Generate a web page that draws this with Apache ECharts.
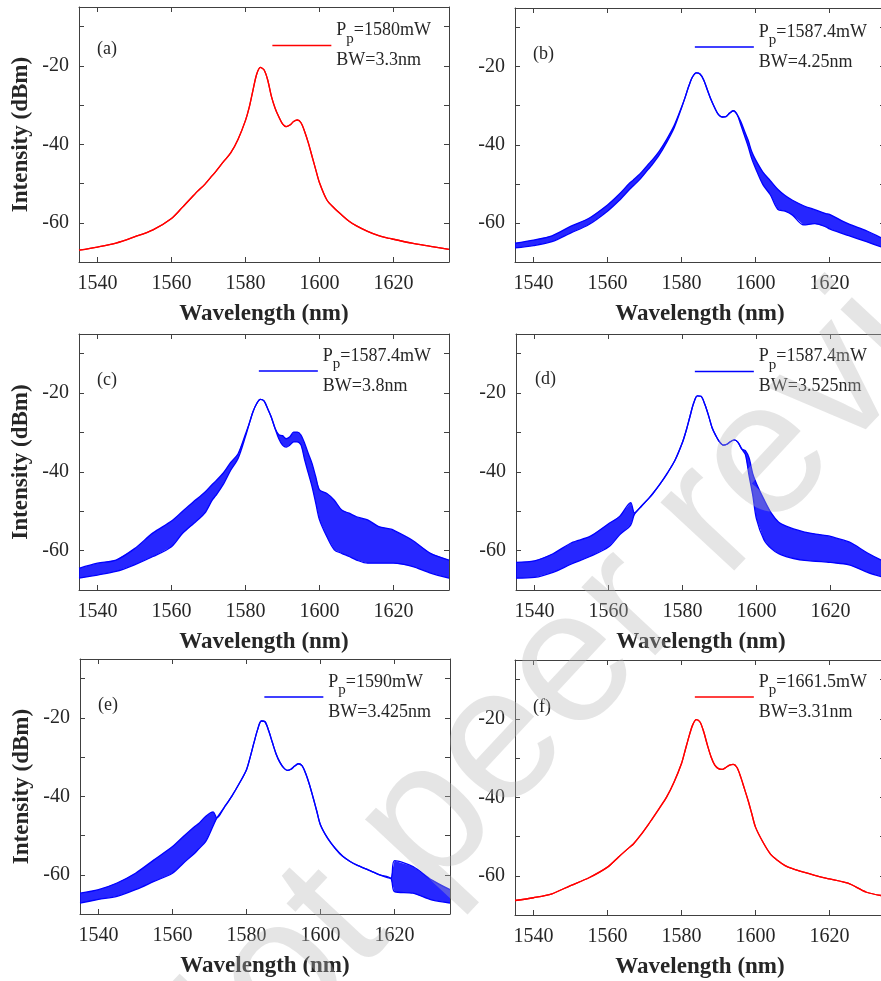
<!DOCTYPE html>
<html>
<head>
<meta charset="utf-8">
<script src="https://cdn.jsdelivr.net/npm/echarts@6/dist/echarts.min.js"></script>
<style>
  html, body { margin: 0; padding: 0; background: #fff; }
  #main { width: 881px; height: 981px; }
</style>
</head>
<body>
<div id="main"></div>
<script>
// wavelength samples (nm) shared by all six spectra
const wavelength = [1535, 1540, 1545, 1550, 1555, 1560, 1563, 1566, 1567, 1569, 1571, 1572, 1574, 1576, 1578,
  1580, 1581, 1582, 1583, 1584, 1585, 1586, 1587, 1588, 1589, 1590, 1591, 1592, 1593, 1594, 1595, 1596, 1597,
  1598, 1599, 1600, 1602, 1604, 1606, 1608, 1610, 1613, 1616, 1619, 1620, 1625, 1630, 1635];

// (a) clean trace
const aTrace = [-67.0, -66.2, -65.2, -63.6, -61.8, -58.9, -56.0, -53.0, -52.0, -50.2, -48.0, -46.9, -44.5, -42.2, -38.7,
  -33.9, -30.6, -26.3, -22.2, -20.4, -21.0, -23.6, -27.8, -30.8, -33.0, -34.8, -35.5, -35.1, -34.2, -33.8, -34.5, -36.8, -39.7,
  -43.1, -46.5, -49.8, -54.2, -56.3, -58.0, -59.6, -60.8, -62.2, -63.3, -64.0, -64.2, -65.2, -66.0, -66.8];

// (b)-(e) noisy traces: lower / upper envelope of the noise band
const bLow = [-66.4, -65.8, -64.8, -62.6, -60.4, -57.0, -54.4, -51.4, -50.5, -48.6, -46.3, -45.2, -42.6, -39.4, -35.7,
  -30.6, -27.8, -24.9, -22.6, -21.6, -21.9, -23.4, -26.0, -28.5, -30.6, -32.3, -32.9, -32.8, -31.9, -31.3, -32.2, -34.8, -37.6,
  -40.4, -43.6, -46.0, -50.2, -52.8, -56.5, -57.0, -58.0, -60.5, -60.2, -61.0, -61.5, -63.2, -64.8, -66.5];
const bHigh = [-65.2, -64.4, -63.3, -60.9, -58.8, -55.4, -52.8, -49.8, -49.0, -47.2, -45.0, -44.0, -41.6, -38.6, -35.1,
  -30.4, -27.8, -24.9, -22.6, -21.6, -21.9, -23.4, -26.0, -28.5, -30.6, -32.3, -32.9, -32.8, -31.9, -31.3, -32.2, -34.0, -36.4,
  -38.8, -41.8, -43.8, -47.0, -49.2, -51.4, -53.0, -54.2, -55.6, -56.6, -57.6, -57.8, -60.2, -62.0, -64.3];

const cLow = [-67.0, -66.2, -65.3, -63.6, -61.5, -59.0, -55.6, -53.1, -52.3, -50.5, -47.2, -46.0, -43.2, -39.6, -36.6,
  -31.0, -27.8, -24.8, -22.7, -21.6, -22.0, -24.0, -26.2, -29.0, -31.6, -33.2, -33.7, -33.2, -32.4, -32.4, -33.2, -37.0, -40.4,
  -43.8, -48.0, -52.2, -56.5, -59.8, -60.7, -61.5, -62.4, -63.2, -63.2, -63.2, -63.2, -64.0, -65.7, -67.0];
const cHigh = [-64.5, -63.2, -62.4, -59.5, -55.5, -52.5, -50.0, -47.5, -46.8, -45.2, -43.2, -42.3, -40.3, -37.6, -35.4,
  -30.4, -27.8, -24.8, -22.7, -21.6, -22.0, -24.0, -26.2, -29.0, -30.6, -30.8, -31.6, -31.1, -29.9, -29.9, -30.7, -32.8, -35.4,
  -37.9, -41.3, -44.6, -45.5, -47.2, -49.7, -50.5, -51.4, -52.2, -53.9, -54.5, -54.8, -57.3, -60.7, -62.4];

const dLow = [-67.0, -66.8, -65.5, -63.4, -61.5, -59.1, -56.0, -53.5, -50.8, -48.6, -46.6, -45.5, -43.0, -40.2, -37.0,
  -32.5, -29.5, -26.0, -22.6, -20.7, -20.8, -22.8, -25.6, -28.8, -30.8, -32.4, -33.2, -33.0, -32.3, -31.9, -32.5, -34.2, -35.6,
  -41.0, -46.0, -52.0, -57.2, -59.5, -60.8, -61.5, -62.0, -62.5, -62.7, -62.9, -63.0, -63.6, -65.5, -67.0];
const dHigh = [-63.0, -62.6, -60.8, -58.0, -56.4, -53.2, -51.3, -47.8, -50.4, -48.6, -46.6, -45.5, -43.0, -40.2, -37.0,
  -32.5, -29.5, -26.0, -22.6, -20.7, -20.8, -22.8, -25.6, -28.8, -30.8, -32.4, -33.2, -33.0, -32.3, -31.9, -32.5, -34.2, -34.6,
  -36.5, -40.5, -43.0, -47.0, -50.5, -52.8, -53.8, -54.5, -55.3, -55.8, -56.2, -56.4, -57.8, -60.6, -63.0];

const eLow = [-67.2, -66.3, -65.5, -63.8, -61.7, -59.6, -57.0, -54.5, -53.5, -51.5, -47.5, -45.5, -42.8, -40.0, -36.8,
  -33.2, -30.0, -26.4, -23.0, -20.8, -21.0, -23.3, -26.3, -29.2, -31.3, -32.7, -33.4, -33.1, -32.3, -31.7, -32.2, -34.2, -37.0,
  -40.3, -43.8, -47.3, -50.8, -53.3, -55.3, -56.6, -57.6, -58.8, -60.0, -60.9, -64.3, -64.7, -66.4, -67.2];
const eHigh = [-64.7, -63.8, -62.1, -59.6, -56.2, -52.8, -50.2, -47.7, -47.0, -45.1, -44.0, -45.5, -42.8, -40.0, -36.8,
  -33.2, -30.0, -26.4, -23.0, -20.8, -21.0, -23.3, -26.3, -29.2, -31.3, -32.7, -33.4, -33.1, -32.3, -31.7, -32.2, -34.2, -37.0,
  -40.3, -43.8, -47.3, -50.8, -53.3, -55.3, -56.6, -57.6, -58.8, -60.0, -60.9, -56.4, -57.9, -61.3, -63.8];

// (f) clean trace
const fTrace = [-66.3, -65.6, -64.6, -62.5, -60.5, -57.8, -55.2, -52.7, -51.9, -49.6, -47.0, -45.6, -42.8, -39.9, -36.1,
  -31.4, -28.0, -24.6, -21.6, -20.2, -20.8, -23.3, -26.7, -29.7, -31.8, -32.7, -32.9, -32.4, -31.8, -31.6, -32.4, -34.8, -37.8,
  -40.8, -44.2, -47.6, -51.4, -54.4, -56.1, -57.4, -58.2, -59.1, -59.9, -60.6, -60.8, -61.9, -64.2, -65.2];

const panelTags = ['(a)', '(b)', '(c)', '(d)', '(e)', '(f)'];
const pumpPowers = ['1580', '1587.4', '1587.4', '1587.4', '1590', '1661.5'];
const bandwidths = ['3.3', '4.25', '3.8', '3.525', '3.425', '3.31'];
const xTicks = [1540, 1560, 1580, 1600, 1620];
const yTicks = [-60, -50, -40, -30, -20, -10];
const yLabels = [-60, -40, -20];

const panels = [
  { low: aTrace, high: aTrace, color: '#ff0000' },
  { low: bLow, high: bHigh, color: '#0000ff' },
  { low: cLow, high: cHigh, color: '#0000ff' },
  { low: dLow, high: dHigh, color: '#0000ff' },
  { low: eLow, high: eHigh, color: '#0000ff' },
  { low: fTrace, high: fTrace, color: '#ff0000' }
];

// layout of the 3x2 grid (pixels)
const boxes = [
  { left: 79, top: 7, height: 255 }, { left: 515, top: 8, height: 254 },
  { left: 79, top: 334, height: 256 }, { left: 516, top: 334, height: 256 },
  { left: 80, top: 659, height: 255 }, { left: 515, top: 660, height: 255 }
];
const legendTop = [14.5, 16, 340, 340.5, 666, 666];
const tagPos = [[97, 40], [533, 45], [97, 371], [535, 370], [98, 696], [533, 698]];

const serif = '"Liberation Serif", "Times New Roman", serif';
const ink = '#262626';
const frame = '#404040';

const chart = echarts.init(document.getElementById('main'), null, { renderer: 'canvas' });

const option = {
  animation: false,
  backgroundColor: '#fff',
  title: [], legend: [], grid: [], xAxis: [], yAxis: [], series: [],
  // light diagonal watermark lying over the figure
  graphic: [{
    type: 'text', x: 154, y: 1116, rotation: 47 * Math.PI / 180, z: 100, silent: true,
    style: {
      text: 'Not peer reviewed', font: '190px "Liberation Sans", Arial, sans-serif',
      fill: 'rgba(180,180,180,0.35)', align: 'left', verticalAlign: 'middle'
    }
  }]
};

panels.forEach(function (p, i) {
  const b = boxes[i];
  const leftCol = i % 2 === 0;
  const name = panelTags[i] + ' Pp=' + pumpPowers[i] + 'mW BW=' + bandwidths[i] + 'nm';
  const lineAxis = { show: true, onZero: false, lineStyle: { color: frame, width: 1 } };
  const tick = function (vals) {
    return { show: true, inside: true, length: 5, customValues: vals, lineStyle: { color: frame, width: 1 } };
  };
  const plain = function (v) { return String(v); };

  option.grid.push({ left: b.left, top: b.top, width: 370, height: b.height, outerBoundsMode: 'none' });

  option.xAxis.push({
    gridIndex: i, type: 'value', min: 1535, max: 1635, position: 'bottom',
    axisLine: lineAxis, axisTick: tick(xTicks), splitLine: { show: false },
    axisLabel: { customValues: xTicks, formatter: plain, margin: 12, fontFamily: serif, fontSize: 20, color: ink },
    name: 'Wavelength (nm)', nameLocation: 'middle', nameGap: 41,
    nameTextStyle: { fontFamily: serif, fontSize: 23, fontWeight: 'bold', color: ink }
  });
  option.xAxis.push({
    gridIndex: i, type: 'value', min: 1535, max: 1635, position: 'top',
    axisLine: lineAxis, axisTick: tick(xTicks), axisLabel: { show: false }, splitLine: { show: false }
  });

  option.yAxis.push({
    gridIndex: i, type: 'value', min: -70, max: -5, position: 'left',
    axisLine: lineAxis, axisTick: tick(yTicks), splitLine: { show: false },
    axisLabel: { customValues: yLabels, formatter: plain, margin: 10, fontFamily: serif, fontSize: 20, color: ink },
    name: leftCol ? 'Intensity (dBm)' : '', nameLocation: 'middle', nameGap: 46,
    nameTextStyle: { fontFamily: serif, fontSize: 23, fontWeight: 'bold', color: ink }
  });
  option.yAxis.push({
    gridIndex: i, type: 'value', min: -70, max: -5, position: 'right',
    axisLine: lineAxis, axisTick: tick(yTicks), axisLabel: { show: false }, splitLine: { show: false }
  });

  // noise band: filled polygon between the lower and upper envelopes
  option.series.push({
    type: 'custom', xAxisIndex: 2 * i, yAxisIndex: 2 * i, silent: true, clip: true, z: 2,
    data: wavelength.map(function (w, k) { return [w, p.low[k], p.high[k]]; }),
    encode: { x: 0, y: [1, 2] },
    renderItem: function (params, api) {
      if (params.dataIndex !== 0) return null;
      const upper = wavelength.map(function (w, k) { return api.coord([w, p.high[k]]); });
      const lower = wavelength.map(function (w, k) { return api.coord([w, p.low[k]]); }).reverse();
      return {
        type: 'polygon', shape: { points: upper.concat(lower) },
        style: { fill: p.color, opacity: 0.85 }
      };
    }
  });

  // envelope lines (they coincide where the trace is clean)
  [p.low, p.high].forEach(function (vals) {
    option.series.push({
      name: name, type: 'line', xAxisIndex: 2 * i, yAxisIndex: 2 * i,
      data: wavelength.map(function (w, k) { return [w, vals[k]]; }),
      symbol: 'none', smooth: 0.3, color: p.color, silent: true, z: 3,
      lineStyle: { width: 1.3, color: p.color }
    });
  });

  option.legend.push({
    data: [name], orient: 'vertical', selectedMode: false, padding: 0,
    right: leftCol ? 450 : 14, top: legendTop[i],
    icon: 'rect', itemWidth: 59, itemHeight: 1.5,
    formatter: function () {
      return '{t|P}{s|p}{t|=' + pumpPowers[i] + 'mW}\n{t|BW=' + bandwidths[i] + 'nm}';
    },
    textStyle: {
      fontFamily: serif, fontSize: 18, color: ink,
      rich: {
        t: { fontFamily: serif, fontSize: 18, color: ink, lineHeight: 30 },
        s: { fontFamily: serif, fontSize: 15, color: ink, lineHeight: 14, padding: [17, 0, 0, 0] }
      }
    }
  });

  option.title.push({
    text: panelTags[i], left: tagPos[i][0], top: tagPos[i][1], padding: 0,
    textStyle: { fontFamily: serif, fontSize: 18, fontWeight: 'normal', color: ink }
  });
});

chart.setOption(option);
</script>
</body>
</html>
